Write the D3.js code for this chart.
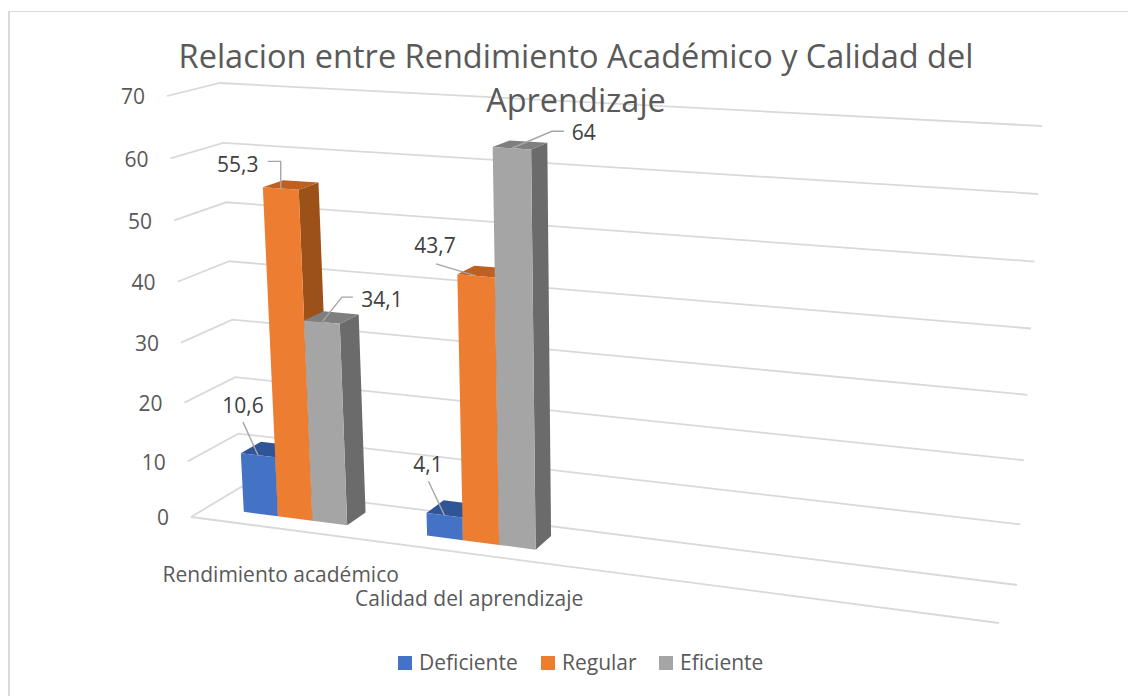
<!DOCTYPE html>
<html>
<head>
<meta charset="utf-8">
<script src="https://cdn.jsdelivr.net/npm/d3@7"></script>
<style>
  html, body { margin: 0; padding: 0; background: #fff; }
  text { font-family: "Open Sans", sans-serif; }
</style>
</head>
<body>
<svg id="chart" width="1128" height="696"></svg>
<script>
// Chart data
const titleLines = ['Relacion entre Rendimiento Académico y Calidad del', 'Aprendizaje'];
const categories = ['Rendimiento académico', 'Calidad del aprendizaje'];
const blankCategories = ['blank1', 'blank2']; // the sheet has two empty rows, they take space on the axis
const seriesNames = ['Deficiente', 'Regular', 'Eficiente'];
const deficiente = [10.6, 4.1];
const regular = [55.3, 43.7];
const eficiente = [34.1, 64];
const yTicks = [0, 10, 20, 30, 40, 50, 60, 70];

const seriesValues = [deficiente, regular, eficiente];

// Colours per series: front, top, side
const faceColors = [
  { front: '#4472C4', top: '#2F5597', side: '#2F5597' },
  { front: '#ED7D31', top: '#BD6020', side: '#9C5119' },
  { front: '#A5A5A5', top: '#7F7F7F', side: '#6B6B6B' },
];
const gridColor = '#D9D9D9';
const textColor = '#595959';
const labelColor = '#404040';
const leaderColor = '#A6A6A6';

// Box corners on screen: front-left, front-right, back-right, back-left
const floorQuad = [[191, 517], [999, 623], [1017, 585], [241, 487]];
const ceilingQuad = [[167, 96], [1024, 142.7], [1042, 126], [220, 83]];

// Maps the unit square on a quad (perspective)
function quadMapper(quad) {
  const [p0, p1, p2, p3] = quad;
  const dx1 = p1[0] - p2[0];
  const dy1 = p1[1] - p2[1];
  const dx2 = p3[0] - p2[0];
  const dy2 = p3[1] - p2[1];
  const sx = p0[0] - p1[0] + p2[0] - p3[0];
  const sy = p0[1] - p1[1] + p2[1] - p3[1];
  const den = dx1 * dy2 - dy1 * dx2;
  const g = (sx * dy2 - sy * dx2) / den;
  const h = (dx1 * sy - dy1 * sx) / den;
  return (u, d) => {
    const w = 1 + g * u + h * d;
    return [
      (p1[0] - p0[0] + g * p1[0]) * u + (p3[0] - p0[0] + h * p3[0]) * d + p0[0],
      (p1[1] - p0[1] + g * p1[1]) * u + (p3[1] - p0[1] + h * p3[1]) * d + p0[1],
    ].map((c) => c / w);
  };
}

const floorAt = quadMapper(floorQuad);
const ceilingAt = quadMapper(ceilingQuad);

// Value scale, a bit off linear because of the perspective
const yScale = d3.scalePow().exponent(1.04).domain([0, 70]).range([0, 1]);

// Category scale along the floor (0-1)
const xScale = d3.scaleBand()
  .domain([...categories, ...blankCategories])
  .range([0.0047, 0.9887]);

// Series scale inside a category (bars touch, not centered on the band)
const seriesScale = d3.scaleBand()
  .domain(seriesNames)
  .range([0.185, 0.755]);

// Depth of the bars on the floor
const depthScale = d3.scaleLinear().domain([0, 1]).range([0.32, 0.73]);

function project(u, d, value) {
  const a = floorAt(u, d);
  const b = ceilingAt(u, d);
  const t = yScale(value);
  return [a[0] + (b[0] - a[0]) * t, a[1] + (b[1] - a[1]) * t];
}

const svg = d3.select('#chart');
const line = d3.line();
const closed = d3.line().curve(d3.curveLinearClosed);

// Chart frame, only left and top show in the crop
svg.append('rect').attr('x', 8).attr('y', 11).attr('width', 2).attr('height', 685)
  .attr('fill', gridColor);
svg.append('rect').attr('x', 8).attr('y', 11).attr('width', 1120).attr('height', 1)
  .attr('fill', gridColor);

// Gridlines: side wall + back wall
svg.append('g').selectAll('path')
  .data(yTicks)
  .join('path')
  .attr('d', (v) => line([project(0, 0, v), project(0, 1, v), project(1, 1, v)]))
  .attr('fill', 'none')
  .attr('stroke', gridColor)
  .attr('stroke-width', 1.8);

// Front edge of the floor
svg.append('path')
  .attr('d', line([project(0, 0, 0), project(1, 0, 0)]))
  .attr('fill', 'none')
  .attr('stroke', gridColor)
  .attr('stroke-width', 1.8);

// Title goes above the gridlines
svg.append('g').selectAll('text')
  .data(titleLines)
  .join('text')
  .attr('x', 576)
  .attr('y', (d, i) => 68 + i * 44)
  .attr('text-anchor', 'middle')
  .attr('font-size', 32.5)
  .attr('fill', textColor)
  .text((d) => d);

// Y axis labels
svg.append('g').selectAll('text')
  .data(yTicks)
  .join('text')
  .attr('x', (v) => project(0, 0, v)[0] - 22)
  .attr('y', (v) => project(0, 0, v)[1] + 1)
  .attr('dy', '0.35em')
  .attr('text-anchor', 'end')
  .attr('font-size', 21)
  .attr('fill', textColor)
  .text((v) => v);

// X axis labels
svg.append('g').selectAll('text')
  .data(categories)
  .join('text')
  .attr('x', (c) => project(xScale(c) + xScale.bandwidth() / 2, 0, 0)[0] - 4.5)
  .attr('y', (c) => project(xScale(c) + xScale.bandwidth() / 2, 0, 0)[1] + 45)
  .attr('dy', '0.35em')
  .attr('text-anchor', 'middle')
  .attr('font-size', 21)
  .attr('fill', textColor)
  .text((c) => c);

// Bars, painted left to right
const bars = categories.flatMap((c, i) => seriesNames.map((s, j) => {
  const u0 = xScale(c) + xScale.bandwidth() * seriesScale(s);
  const u1 = u0 + xScale.bandwidth() * seriesScale.bandwidth();
  return {
    category: c, series: j, value: seriesValues[j][i], u0, u1,
  };
}));

const d0 = depthScale(0);
const d1 = depthScale(1);

const barGroups = svg.append('g').selectAll('g')
  .data(bars)
  .join('g');

barGroups.append('path')
  .attr('d', (b) => closed([
    project(b.u1, d0, 0), project(b.u1, d1, 0), project(b.u1, d1, b.value), project(b.u1, d0, b.value),
  ]))
  .attr('fill', (b) => faceColors[b.series].side);

barGroups.append('path')
  .attr('d', (b) => closed([
    project(b.u0, d0, b.value), project(b.u1, d0, b.value), project(b.u1, d1, b.value), project(b.u0, d1, b.value),
  ]))
  .attr('fill', (b) => faceColors[b.series].top);

barGroups.append('path')
  .attr('d', (b) => closed([
    project(b.u0, d0, 0), project(b.u1, d0, 0), project(b.u1, d0, b.value), project(b.u0, d0, b.value),
  ]))
  .attr('fill', (b) => faceColors[b.series].front);

// Data labels with leader lines, offsets are from the middle of the bar's front top edge
const labelOffsets = [
  { text: [-15, -50], leader: [[-15, -33]] },
  { text: [-43, -24], leader: [[0, -27], [-13, -27]] },
  { text: [60, -22], leader: [[20, -25], [31, -25]] },
  { text: [-16.5, -51], leader: [[-16, -34]] },
  { text: [-41, -30], leader: [[-40, -12]] },
  { text: [72, -16], leader: [[40, -17], [52, -17]] },
];

bars.forEach((b, i) => {
  const a = project((b.u0 + b.u1) / 2, d0, b.value);
  const off = labelOffsets[i];
  svg.append('path')
    .attr('d', line([a, ...off.leader.map((p) => [a[0] + p[0], a[1] + p[1]])]))
    .attr('fill', 'none')
    .attr('stroke', leaderColor)
    .attr('stroke-width', 1.4);
  svg.append('text')
    .attr('x', a[0] + off.text[0])
    .attr('y', a[1] + off.text[1])
    .attr('dy', '0.35em')
    .attr('text-anchor', 'middle')
    .attr('font-size', 21)
    .attr('fill', labelColor)
    .text(String(b.value).replace('.', ','));
});

// Legend
const legendX = d3.scaleOrdinal().domain(seriesNames).range([398, 541, 659]);
const legend = svg.append('g').selectAll('g')
  .data(seriesNames)
  .join('g')
  .attr('transform', (s) => `translate(${legendX(s)},656)`);

legend.append('rect')
  .attr('width', 14)
  .attr('height', 14)
  .attr('fill', (s, i) => faceColors[i].front);

legend.append('text')
  .attr('x', 21)
  .attr('y', 7)
  .attr('dy', '0.35em')
  .attr('font-size', 21)
  .attr('fill', textColor)
  .text((s) => s);
</script>
</body>
</html>
